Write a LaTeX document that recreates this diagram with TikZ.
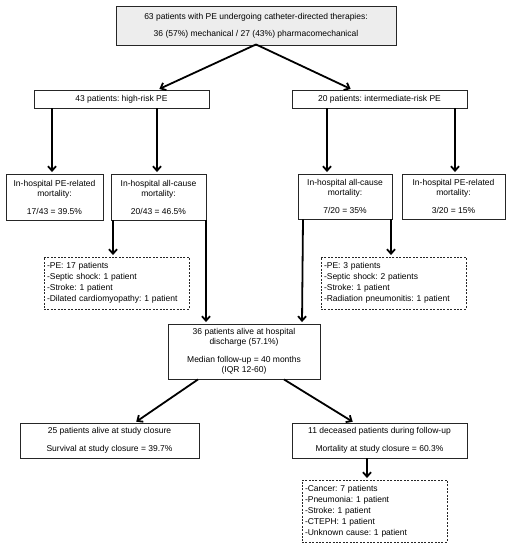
\documentclass[tikz,border=0pt]{standalone}
\usepackage{fontspec}
\setmainfont{Liberation Sans}
\usetikzlibrary{arrows.meta}
\frenchspacing
\begin{document}
\begin{tikzpicture}[x=1pt,y=-1pt,
  every node/.style={font=\fontsize{8.5}{10}\selectfont, inner sep=0pt},
  solidbox/.style={draw=black!85, line width=0.9pt, align=center},
  dashbox/.style={draw=black!85, line width=0.9pt, dash pattern=on 2pt off 1.4pt,
     align=left, inner xsep=3pt, font=\fontsize{8.5}{11}\selectfont},
  arr/.style={line width=1.8pt, -{Straight Barb[length=4.5pt,width=8pt]}, shorten >=1.5pt}
]
\useasboundingbox (0,0) rectangle (514,550);

\node[solidbox, fill=black!7, minimum width=280, minimum height=39] (top) at (256,25.5)
  {63 patients with PE undergoing catheter-directed therapies:\\[7pt]36 (57\%) mechanical / 27 (43\%) pharmacomechanical};

\node[solidbox, minimum width=175, minimum height=18] (hr) at (121.5,99) {43 patients: high-risk PE};
\node[solidbox, minimum width=175, minimum height=18] (ir) at (379.5,99) {20 patients: intermediate-risk PE};

\node[solidbox, minimum width=97, minimum height=46] (l1) at (54.5,197)
  {In-hospital PE-related\\mortality:\\[8pt]17/43 = 39.5\%};
\node[solidbox, minimum width=95, minimum height=46] (l2) at (158.5,197)
  {In-hospital all-cause\\mortality:\\[8pt]20/43 = 46.5\%};
\node[solidbox, minimum width=94, minimum height=45] (r1) at (345,196.5)
  {In-hospital all-cause\\mortality:\\[8pt]7/20 = 35\%};
\node[solidbox, minimum width=103, minimum height=45] (r2) at (453.5,196.5)
  {In-hospital PE-related\\mortality:\\[8pt]3/20 = 15\%};

\node[dashbox, text width=139, minimum height=52] (dl) at (116.5,283)
  {-PE: 17 patients\\-Septic shock: 1 patient\\-Stroke: 1 patient\\-Dilated cardiomyopathy: 1 patient};
\node[dashbox, text width=139, minimum height=52] (dr) at (393.5,283)
  {-PE: 3 patients\\-Septic shock: 2 patients\\-Stroke: 1 patient\\-Radiation pneumonitis: 1 patient};

\node[solidbox, minimum width=152, minimum height=55] (mid) at (244,351.5)
  {36 patients alive at hospital\\discharge (57.1\%)\\[8pt]Median follow-up = 40 months\\(IQR 12-60)};

\node[solidbox, minimum width=179, minimum height=35] (bl) at (109.5,440.5)
  {25 patients alive at study closure\\[8pt]Survival at study closure = 39.7\%};
\node[solidbox, minimum width=175, minimum height=35] (br) at (379.5,440.5)
  {11 deceased patients during follow-up\\[8pt]Mortality at study closure = 60.3\%};

\node[dashbox, text width=139, minimum height=62] (db) at (374.5,511)
  {-Cancer: 7 patients\\-Pneumonia: 1 patient\\-Stroke: 1 patient\\-CTEPH: 1 patient\\-Unknown cause: 1 patient};

% connectors
\draw[arr] ([yshift=1pt]top.south) -- ([xshift=36.5pt]hr.north);
\draw[arr] ([yshift=1pt]top.south) -- ([xshift=-27.5pt]ir.north);

\draw[arr] (hr.south -| 52,0) -- (l1.north -| 52,0);
\draw[arr] (hr.south -| 157,0) -- (l2.north -| 157,0);
\draw[arr] (ir.south -| 327,0) -- (r1.north -| 327,0);
\draw[arr] (ir.south -| 455,0) -- (r2.north -| 455,0);

\draw[arr] (l2.south -| 113,0) -- (dl.north -| 113,0);
\draw[arr] (l2.south -| 206,0) -- (mid.north -| 206,0);
\draw[arr] (r1.south -| 391,0) -- (dr.north -| 391,0);
\draw[arr] (r1.south -| 303,0) -- (mid.north -| 302,0);

\draw[arr] (mid.south -| 198,0) -- ([xshift=25.5pt]bl.north);
\draw[arr] (mid.south -| 284,0) -- ([xshift=-25.5pt]br.north);

\draw[arr] (br.south -| 367,0) -- (db.north -| 367,0);
\end{tikzpicture}
\end{document}
